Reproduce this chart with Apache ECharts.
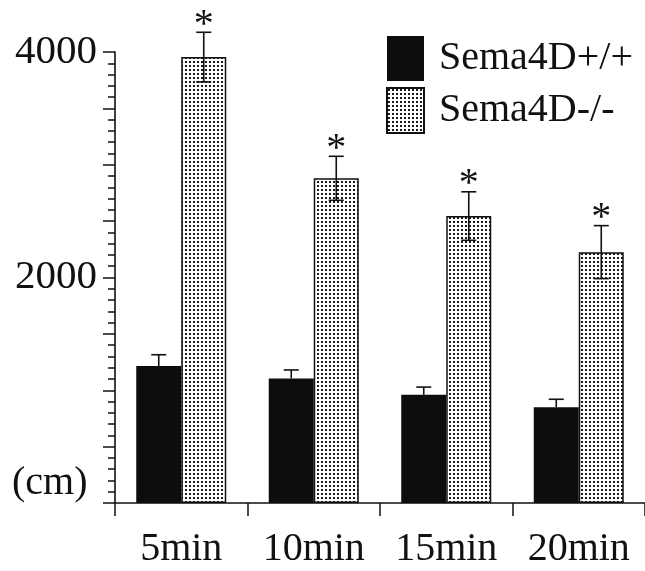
<!DOCTYPE html>
<html>
<head>
<meta charset="utf-8">
<script src="https://cdn.jsdelivr.net/npm/echarts@6/dist/echarts.min.js"></script>
<style>
  html, body { margin: 0; padding: 0; background: #fff; }
  #main { width: 645px; height: 571px; }
</style>
</head>
<body>
<div id="main"></div>
<script>
const categories = ['5min', '10min', '15min', '20min'];
const wtValues = [1215, 1105, 960, 850];
const wtSem = [100, 75, 68, 70];
const koValues = [3955, 2880, 2545, 2225];
const koSem = [220, 195, 215, 235];
const yLabels = [2000, 4000];

const chart = echarts.init(document.getElementById('main'));
const FONT = '"Liberation Serif", "Times New Roman", serif';

// dotted fill for the knockout bars
const dots = document.createElement('canvas');
dots.width = 4;
dots.height = 4;
const dctx = dots.getContext('2d');
dctx.fillStyle = '#fff';
dctx.fillRect(0, 0, 4, 4);
dctx.fillStyle = '#1a1a1a';
dctx.fillRect(1, 1, 2, 2);
const dotFill = { image: dots, repeat: 'repeat' };

const halfBar = 22.5;
const cap = 7.5;

function errItem(shift, both, star) {
  return function (params, api) {
    const x = api.coord([api.value(0), 0])[0] + shift;
    const yMid = api.coord([api.value(0), api.value(1)])[1];
    const yTop = api.coord([api.value(0), api.value(1) + api.value(2)])[1];
    const yBot = both ? api.coord([api.value(0), api.value(1) - api.value(2)])[1] : yMid;
    const style = { stroke: '#111', lineWidth: 1.6 };
    const kids = [
      { type: 'line', shape: { x1: x, y1: yBot, x2: x, y2: yTop }, style: style },
      { type: 'line', shape: { x1: x - cap, y1: yTop, x2: x + cap, y2: yTop }, style: style }
    ];
    if (both) {
      kids.push({ type: 'line', shape: { x1: x - cap, y1: yBot, x2: x + cap, y2: yBot }, style: style });
    }
    if (star) {
      kids.push({
        type: 'text',
        style: {
          text: '*', x: x, y: yTop + 13,
          align: 'center', verticalAlign: 'bottom',
          font: '40px ' + FONT, fill: '#111'
        }
      });
    }
    return { type: 'group', children: kids };
  };
}

const option = {
  backgroundColor: '#fff',
  animation: false,
  grid: { left: 115, top: 52, width: 532, height: 451 },
  legend: {
    data: ['Sema4D+/+', 'Sema4D-/-'],
    orient: 'vertical',
    left: 386,
    top: 36,
    padding: 0,
    icon: 'rect',
    itemWidth: 37,
    itemHeight: 45,
    itemGap: 6,
    textStyle: { fontFamily: FONT, fontSize: 40, color: '#111', padding: [0, 0, 0, 10] }
  },
  xAxis: {
    type: 'category',
    data: categories,
    axisLine: { lineStyle: { color: '#111', width: 1.6 } },
    axisTick: { show: true, interval: 0, length: 13, lineStyle: { color: '#111', width: 1.5 } },
    axisLabel: { interval: 0, fontFamily: FONT, fontSize: 40, color: '#111', margin: 26 }
  },
  yAxis: {
    type: 'value',
    min: 0,
    max: 4000,
    interval: 500,
    splitLine: { show: false },
    axisLine: { show: true, lineStyle: { color: '#111', width: 1.6 } },
    axisTick: { show: true, length: 12, lineStyle: { color: '#111', width: 1.5 } },
    minorTick: { show: true, splitNumber: 5, length: 7, lineStyle: { color: '#111', width: 1.5 } },
    axisLabel: {
      fontFamily: FONT, fontSize: 41, color: '#111', margin: 18,
      formatter: v => (yLabels.indexOf(v) >= 0 ? String(v) : '')
    }
  },
  graphic: [
    {
      type: 'text', left: 12, top: 463,
      style: { text: '(cm)', font: '40px ' + FONT, fill: '#111' }
    }
  ],
  series: [
    {
      name: 'Sema4D+/+',
      type: 'bar',
      data: wtValues,
      barWidth: 45,
      barGap: '0%',
      itemStyle: { color: '#0d0d0d' }
    },
    {
      name: 'Sema4D-/-',
      type: 'bar',
      data: koValues,
      barWidth: 45,
      barGap: '0%',
      itemStyle: { color: dotFill, borderColor: '#111', borderWidth: 1.5 }
    },
    {
      type: 'custom',
      z: 5,
      renderItem: errItem(-halfBar, false, false),
      data: wtValues.map((v, i) => [i, v, wtSem[i]])
    },
    {
      type: 'custom',
      z: 5,
      renderItem: errItem(halfBar, true, true),
      data: koValues.map((v, i) => [i, v, koSem[i]])
    }
  ]
};
chart.setOption(option);
</script>
</body>
</html>
